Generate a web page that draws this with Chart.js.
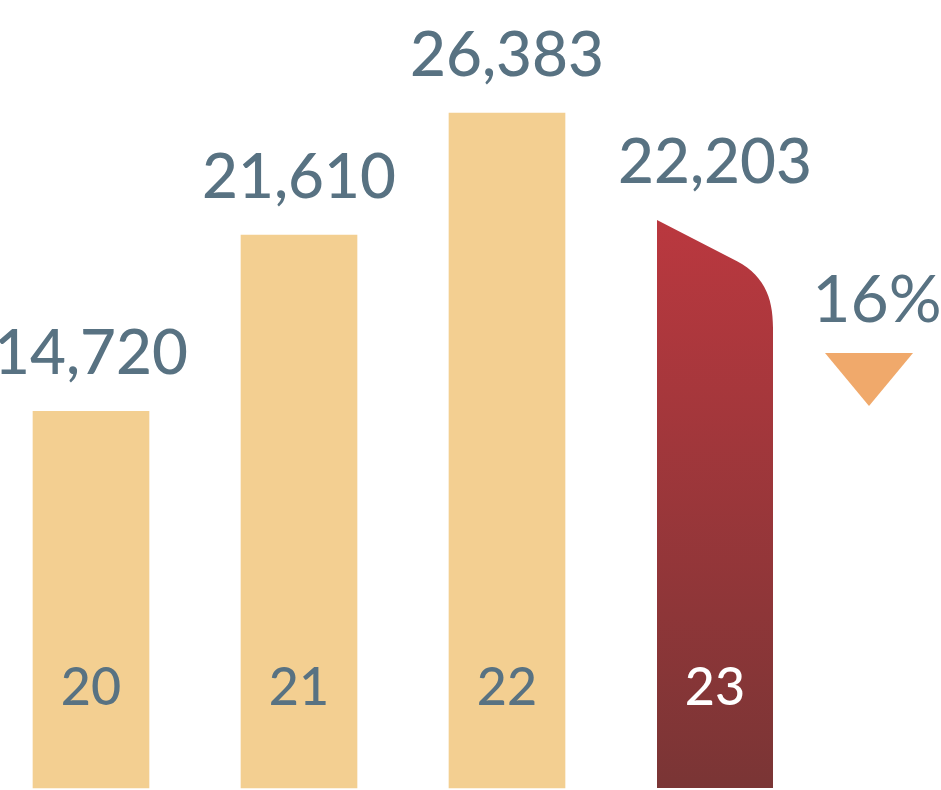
<!DOCTYPE html>
<html>
<head>
<meta charset="utf-8">
<script src="https://cdn.jsdelivr.net/npm/chart.js@4.4.1/dist/chart.umd.min.js"></script>
<style>
    html, body { margin: 0; padding: 0; background: #ffffff; }
    #wrap { width: 941px; height: 790px; position: relative; }
</style>
</head>
<body>
<div id="wrap"><canvas id="salesChart"></canvas></div>
<script>
// chart data
const years = ['20', '21', '22', '23'];
const totals = [14720, 21610, 26383, 22203];

const textColor = '#587282';
const barColor = '#F3CF91';
const fontName = 'Lato, "Open Sans", sans-serif';

// drop from the best year to the last one, shown as the "16%" badge
const peak = Math.max(...totals);
const dropPct = Math.round((peak - totals[totals.length - 1]) / peak * 100);

const lastIdx = totals.length - 1;

// draws the last bar with its sloped top, plus all the labels
const labelPlugin = {
    id: 'labelPlugin',
    afterDatasetsDraw(chart) {
        const ctx = chart.ctx;
        const meta = chart.getDatasetMeta(0);

        // custom shape for the last bar
        const el = meta.data[lastIdx];
        const w = el.width;
        const L = el.x - w / 2;
        const R = el.x + w / 2;
        const top = el.y;
        const base = el.base;
        const grad = ctx.createLinearGradient(0, top, 0, base);
        grad.addColorStop(0, '#BA383F');
        grad.addColorStop(1, '#7A3535');
        ctx.save();
        ctx.fillStyle = grad;
        ctx.beginPath();
        ctx.moveTo(L, base);
        ctx.lineTo(L, top);
        ctx.lineTo(L + w * 0.64, top + w * 0.33);
        ctx.bezierCurveTo(L + w * 0.92, top + w * 0.46, R, top + w * 0.66, R, top + w * 0.93);
        ctx.lineTo(R, base);
        ctx.closePath();
        ctx.fill();
        ctx.restore();

        ctx.save();
        ctx.textAlign = 'center';
        ctx.textBaseline = 'alphabetic';
        meta.data.forEach((bar, i) => {
            // value above the bar
            ctx.fillStyle = textColor;
            ctx.font = '500 62px ' + fontName;
            ctx.fillText(totals[i].toLocaleString('en-US'), bar.x, bar.y - 37);
            // year inside the bar near the bottom
            ctx.fillStyle = i === lastIdx ? '#ffffff' : textColor;
            ctx.font = '500 52px ' + fontName;
            ctx.fillText(years[i], bar.x, bar.base - 83);
        });

        // change badge to the right of the last bar
        const bx = R + 104;
        ctx.fillStyle = textColor;
        ctx.font = '400 66px ' + fontName;
        ctx.fillText(dropPct + '%', bx, top + 102);
        ctx.fillStyle = '#F0A96B';
        ctx.beginPath();
        ctx.moveTo(bx - 52, top + 133);
        ctx.lineTo(bx + 36, top + 133);
        ctx.lineTo(bx - 8, top + 186);
        ctx.closePath();
        ctx.fill();
        ctx.restore();
    }
};

const ctx = document.getElementById('salesChart').getContext('2d');
const salesChart = new Chart(ctx, {
    type: 'bar',
    data: {
        labels: years,
        datasets: [{
            data: totals,
            backgroundColor: totals.map((v, i) => i === lastIdx ? 'rgba(0,0,0,0)' : barColor),
            barThickness: 116,
            borderWidth: 0,
            clip: false
        }]
    },
    options: {
        responsive: true,
        maintainAspectRatio: false,
        animation: false,
        layout: {
            padding: { left: 91, right: 226, top: 0, bottom: 2 }
        },
        plugins: {
            legend: { display: false },
            tooltip: { enabled: false }
        },
        scales: {
            x: {
                display: false,
                offset: false
            },
            y: {
                display: false,
                min: 0,
                max: 30800
            }
        }
    },
    plugins: [labelPlugin]
});
</script>
</body>
</html>
